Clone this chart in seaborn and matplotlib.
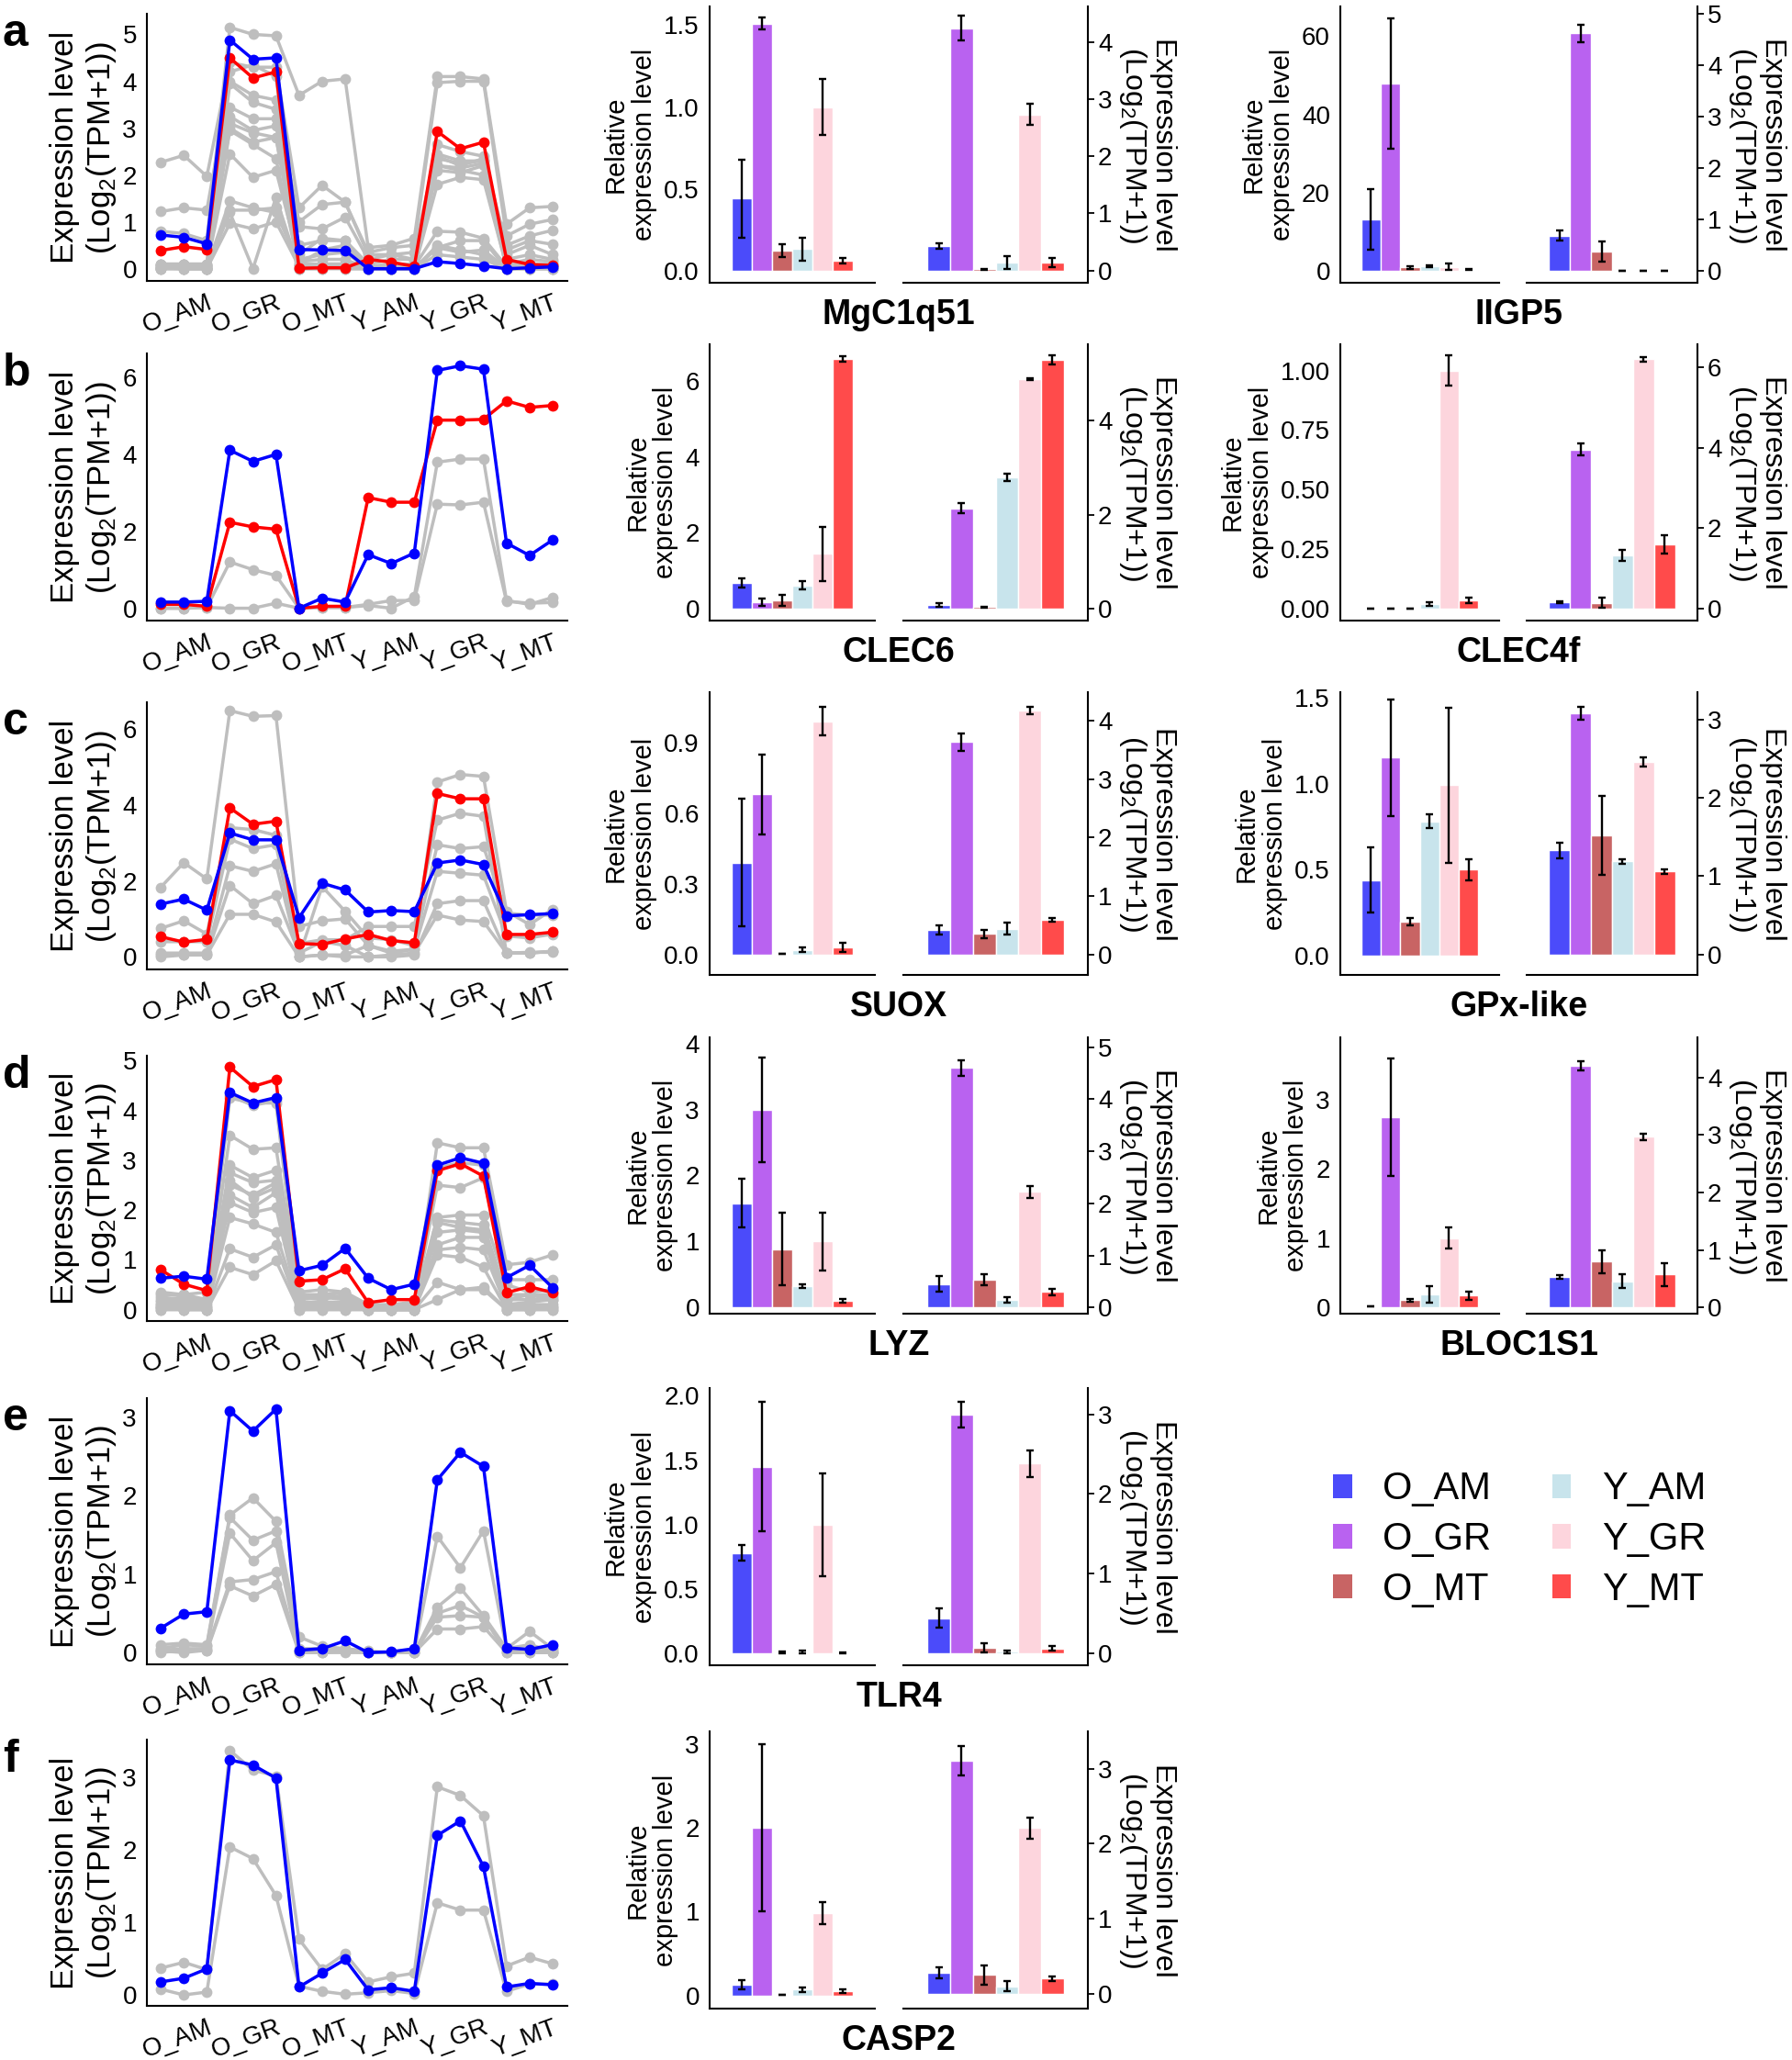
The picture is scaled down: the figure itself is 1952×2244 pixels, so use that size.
import numpy as np
import pandas as pd
import matplotlib
matplotlib.use('Agg')
import matplotlib.pyplot as plt
from matplotlib import font_manager
from matplotlib.patches import Patch
import seaborn as sns

sns.set_style('white')
plt.rcParams['font.family'] = ['Liberation Sans', 'DejaVu Sans']
plt.rcParams['mathtext.fontset'] = 'custom'
plt.rcParams['mathtext.rm'] = 'Liberation Sans'
for key in ['text.color', 'axes.labelcolor', 'xtick.color', 'ytick.color']:
    plt.rcParams[key] = 'black'

# tick numbers in the figure look condensed -> use the narrow cut when it exists
_names = {f.name for f in font_manager.fontManager.ttflist}
TICK_FONT = 'Liberation Sans Narrow' if 'Liberation Sans Narrow' in _names else 'Liberation Sans'

groups = ['O_AM', 'O_GR', 'O_MT', 'Y_AM', 'Y_GR', 'Y_MT']
bar_colors = ['#4B4BFA', '#B962F0', '#C86464', '#C8E4EC', '#FDD5DD', '#FF4B4B']

# ---------------- line panels (18 samples = 6 groups x 3) ----------------
a_red = [0.39, 0.47, 0.41, 4.50, 4.07, 4.20, 0.01, 0.02, 0.02, 0.20, 0.14, 0.05, 2.93, 2.56, 2.70, 0.20, 0.09, 0.07]
a_blue = [0.72, 0.67, 0.53, 4.88, 4.47, 4.50, 0.41, 0.40, 0.39, 0.00, 0.00, 0.00, 0.15, 0.11, 0.06, 0.00, 0.02, 0.04]
a_gray = [
    [0.80, 0.75, 0.60, 5.15, 5.00, 4.97, 3.70, 4.00, 4.05, 0.45, 0.50, 0.65, 4.10, 4.10, 4.05, 0.95, 1.30, 1.33],
    [2.27, 2.42, 1.97, 4.40, 4.30, 4.30, 1.30, 1.78, 1.42, 0.35, 0.45, 0.50, 3.97, 4.00, 4.00, 0.70, 0.95, 1.05],
    [1.22, 1.30, 1.25, 4.00, 3.70, 3.60, 1.00, 1.37, 1.42, 0.30, 0.30, 0.35, 2.65, 2.50, 2.40, 0.50, 0.70, 0.82],
    [0.10, 0.10, 0.10, 3.45, 3.20, 3.20, 0.90, 0.85, 1.10, 0.20, 0.30, 0.20, 2.45, 2.30, 2.30, 0.40, 0.60, 0.52],
    [0.05, 0.05, 0.05, 3.25, 2.95, 3.05, 0.50, 0.60, 0.60, 0.10, 0.20, 0.20, 2.35, 2.25, 2.30, 0.20, 0.30, 0.20],
    [0.10, 0.05, 0.08, 3.00, 2.70, 2.80, 0.30, 0.65, 0.60, 0.05, 0.10, 0.10, 2.20, 2.15, 2.25, 0.30, 0.50, 0.30],
    [0.02, 0.10, 0.05, 2.45, 1.95, 2.10, 0.20, 0.30, 0.35, 0.00, 0.05, 0.05, 2.10, 2.05, 2.20, 0.10, 0.20, 0.15],
    [0.02, 0.05, 0.02, 1.45, 1.30, 1.20, 0.10, 0.40, 0.50, 0.00, 0.00, 0.00, 1.80, 1.95, 1.90, 0.05, 0.10, 0.10],
    [0.00, 0.00, 0.00, 1.25, 1.25, 1.30, 0.10, 0.10, 0.10, 0.00, 0.00, 0.05, 0.80, 0.78, 0.65, 0.05, 0.05, 0.05],
    [0.05, 0.00, 0.00, 0.97, 0.85, 1.00, 0.05, 0.05, 0.05, 0.00, 0.00, 0.00, 0.50, 0.40, 0.30, 0.00, 0.00, 0.00],
    [0.00, 0.05, 0.00, 1.20, 0.00, 1.52, 0.00, 0.00, 0.00, 0.00, 0.00, 0.00, 0.45, 0.60, 0.60, 0.00, 0.05, 0.00],
    [0.10, 0.10, 0.10, 4.20, 4.35, 4.10, 0.15, 0.20, 0.20, 0.00, 0.00, 0.02, 2.40, 2.20, 2.35, 0.10, 0.10, 0.10],
    [0.05, 0.02, 0.03, 3.95, 3.55, 3.40, 0.05, 0.10, 0.10, 0.00, 0.00, 0.00, 2.20, 2.10, 2.00, 0.05, 0.00, 0.05],
    [0.00, 0.00, 0.00, 3.10, 2.90, 2.80, 0.00, 0.00, 0.05, 0.00, 0.00, 0.00, 0.45, 0.35, 0.40, 0.00, 0.00, 0.00],
    [0.02, 0.00, 0.00, 2.95, 2.65, 2.35, 0.00, 0.05, 0.00, 0.00, 0.00, 0.00, 0.30, 0.25, 0.20, 0.00, 0.00, 0.00],
]

b_red = [0.10, 0.10, 0.05, 2.23, 2.11, 2.05, 0.00, 0.05, 0.05, 2.87, 2.75, 2.75, 4.88, 4.88, 4.90, 5.38, 5.21, 5.26]
b_blue = [0.16, 0.16, 0.18, 4.10, 3.81, 3.99, 0.00, 0.26, 0.16, 1.39, 1.16, 1.43, 6.17, 6.29, 6.20, 1.69, 1.37, 1.77]
b_gray = [
    [0.00, 0.00, 0.02, 0.00, 0.00, 0.13, 0.00, 0.02, 0.02, 0.07, 0.00, 0.30, 3.79, 3.87, 3.87, 0.20, 0.10, 0.28],
    [0.00, 0.00, 0.02, 1.20, 1.00, 0.85, 0.00, 0.02, 0.02, 0.10, 0.20, 0.20, 2.70, 2.68, 2.75, 0.18, 0.13, 0.15],
]

c_red = [0.53, 0.39, 0.46, 3.92, 3.49, 3.57, 0.35, 0.33, 0.47, 0.59, 0.43, 0.37, 4.30, 4.16, 4.16, 0.59, 0.59, 0.65]
c_blue = [1.39, 1.52, 1.23, 3.26, 3.08, 3.08, 1.03, 1.94, 1.76, 1.18, 1.22, 1.19, 2.47, 2.55, 2.43, 1.08, 1.11, 1.14]
c_gray = [
    [1.83, 2.48, 2.05, 6.48, 6.33, 6.35, 0.80, 0.95, 1.00, 0.30, 0.15, 0.20, 4.60, 4.80, 4.75, 1.20, 0.85, 1.25],
    [0.75, 0.95, 0.60, 3.40, 3.35, 3.20, 0.35, 0.45, 0.45, 0.80, 0.80, 0.80, 3.60, 3.78, 3.70, 0.10, 0.10, 0.15],
    [0.40, 0.40, 0.40, 3.10, 2.85, 2.95, 0.00, 1.85, 1.20, 0.50, 0.45, 0.30, 2.95, 2.85, 2.90, 1.15, 1.10, 1.10],
    [0.10, 0.10, 0.10, 2.40, 2.25, 2.45, 0.00, 0.05, 0.05, 0.30, 0.10, 0.20, 2.25, 2.20, 2.15, 0.55, 0.50, 0.60],
    [0.05, 0.05, 0.05, 1.88, 1.40, 1.62, 0.10, 0.40, 0.30, 0.00, 0.00, 0.05, 1.40, 1.48, 1.48, 0.10, 0.10, 0.15],
    [0.00, 0.05, 0.05, 1.12, 1.12, 0.92, 0.00, 0.05, 0.00, 0.00, 0.05, 0.10, 1.10, 0.97, 0.93, 0.10, 0.12, 0.12],
]

d_red = [0.80, 0.51, 0.38, 4.87, 4.48, 4.62, 0.57, 0.60, 0.82, 0.14, 0.20, 0.20, 2.79, 2.93, 2.68, 0.34, 0.46, 0.34]
d_blue = [0.63, 0.67, 0.61, 4.36, 4.15, 4.26, 0.78, 0.89, 1.23, 0.63, 0.40, 0.51, 2.90, 3.05, 2.94, 0.64, 0.89, 0.44]
d_gray = [
    [0.30, 0.30, 0.35, 4.30, 4.10, 4.20, 0.35, 0.40, 0.35, 0.10, 0.10, 0.15, 3.35, 3.25, 3.25, 0.90, 0.95, 1.10],
    [0.35, 0.30, 0.20, 3.50, 3.22, 3.25, 0.30, 0.30, 0.35, 0.05, 0.10, 0.10, 2.50, 2.45, 2.65, 0.60, 0.60, 0.60],
    [0.20, 0.25, 0.20, 2.90, 2.65, 2.80, 0.25, 0.20, 0.30, 0.05, 0.05, 0.10, 1.85, 1.90, 1.90, 0.50, 0.35, 0.40],
    [0.15, 0.20, 0.15, 2.75, 2.55, 2.60, 0.20, 0.25, 0.20, 0.00, 0.05, 0.05, 1.80, 1.75, 1.70, 0.30, 0.30, 0.30],
    [0.10, 0.15, 0.10, 2.50, 2.30, 2.55, 0.15, 0.15, 0.15, 0.00, 0.00, 0.05, 1.75, 1.65, 1.60, 0.20, 0.20, 0.25],
    [0.10, 0.10, 0.05, 2.30, 2.05, 2.35, 0.10, 0.10, 0.10, 0.00, 0.00, 0.00, 1.55, 1.60, 1.55, 0.10, 0.15, 0.20],
    [0.05, 0.05, 0.05, 2.15, 1.95, 2.05, 0.05, 0.10, 0.05, 0.00, 0.00, 0.00, 1.30, 1.45, 1.45, 0.05, 0.10, 0.10],
    [0.05, 0.00, 0.00, 1.85, 1.72, 1.55, 0.05, 0.05, 0.05, 0.00, 0.00, 0.00, 1.20, 1.25, 1.20, 0.05, 0.05, 0.05],
    [0.00, 0.00, 0.00, 1.22, 1.05, 1.30, 0.00, 0.00, 0.00, 0.00, 0.00, 0.00, 1.10, 1.05, 0.85, 0.00, 0.00, 0.05],
    [0.00, 0.00, 0.00, 0.85, 0.70, 0.98, 0.00, 0.00, 0.00, 0.00, 0.00, 0.00, 0.55, 0.40, 0.45, 0.00, 0.00, 0.00],
    [0.05, 0.05, 0.00, 2.60, 2.25, 2.45, 0.05, 0.05, 0.05, 0.00, 0.00, 0.00, 0.20, 0.40, 0.40, 0.00, 0.00, 0.00],
    [0.25, 0.20, 0.20, 4.25, 4.15, 4.15, 0.20, 0.30, 0.25, 0.05, 0.10, 0.10, 2.85, 2.95, 2.90, 0.20, 0.30, 0.20],
]

e_blue = [0.31, 0.49, 0.52, 3.08, 2.82, 3.10, 0.03, 0.05, 0.15, 0.00, 0.01, 0.05, 2.20, 2.55, 2.37, 0.06, 0.04, 0.10]
e_gray = [
    [0.10, 0.12, 0.10, 1.75, 1.97, 1.67, 0.20, 0.08, 0.05, 0.02, 0.00, 0.02, 1.48, 1.08, 1.55, 0.05, 0.27, 0.05],
    [0.05, 0.10, 0.08, 1.72, 1.43, 1.55, 0.05, 0.05, 0.02, 0.00, 0.00, 0.00, 0.58, 0.82, 0.47, 0.05, 0.10, 0.02],
    [0.03, 0.05, 0.05, 1.52, 1.17, 1.40, 0.02, 0.02, 0.05, 0.00, 0.00, 0.00, 0.50, 0.60, 0.45, 0.02, 0.05, 0.00],
    [0.02, 0.00, 0.03, 0.90, 0.93, 1.03, 0.00, 0.00, 0.02, 0.00, 0.00, 0.00, 0.45, 0.47, 0.45, 0.00, 0.00, 0.00],
    [0.00, 0.03, 0.02, 0.85, 0.72, 0.87, 0.00, 0.00, 0.00, 0.00, 0.00, 0.00, 0.30, 0.30, 0.33, 0.00, 0.00, 0.00],
]

f_blue = [0.18, 0.23, 0.36, 3.24, 3.17, 2.99, 0.11, 0.30, 0.49, 0.07, 0.10, 0.05, 2.20, 2.40, 1.77, 0.11, 0.16, 0.14]
f_gray = [
    [0.37, 0.45, 0.35, 3.37, 3.10, 3.02, 0.77, 0.35, 0.57, 0.18, 0.25, 0.30, 2.87, 2.75, 2.47, 0.40, 0.52, 0.43],
    [0.08, 0.00, 0.04, 2.04, 1.88, 1.37, 0.12, 0.05, 0.01, 0.03, 0.06, 0.02, 1.27, 1.17, 1.17, 0.05, 0.15, 0.15],
]

# ---------------- bar panels: qPCR relative level and RNA-seq log2(TPM+1) ----------------
mgc_rel = [0.44, 1.51, 0.12, 0.13, 1.00, 0.06]
mgc_rel_err = [0.24, 0.035, 0.04, 0.07, 0.17, 0.018]
mgc_tpm = [0.43, 4.24, 0.02, 0.14, 2.73, 0.13]
mgc_tpm_err = [0.05, 0.22, 0.01, 0.11, 0.18, 0.08]

iigp5_rel = [13.0, 47.9, 0.8, 1.1, 1.0, 0.3]
iigp5_rel_err = [7.75, 16.6, 0.3, 0.3, 0.8, 0.1]
iigp5_tpm = [0.675, 4.63, 0.37, 0.0, 0.0, 0.0]
iigp5_tpm_err = [0.1, 0.17, 0.19, 0.0, 0.0, 0.0]

clec6_rel = [0.67, 0.16, 0.21, 0.61, 1.44, 6.60]
clec6_rel_err = [0.12, 0.10, 0.15, 0.11, 0.72, 0.07]
clec6_tpm = [0.07, 2.13, 0.03, 2.79, 4.89, 5.29]
clec6_tpm_err = [0.04, 0.11, 0.01, 0.08, 0.02, 0.10]

clec4f_rel = [0.0, 0.0, 0.0, 0.02, 1.00, 0.036]
clec4f_rel_err = [0.0, 0.0, 0.0, 0.007, 0.062, 0.012]
clec4f_tpm = [0.16, 3.96, 0.14, 1.32, 6.21, 1.60]
clec4f_tpm_err = [0.03, 0.15, 0.13, 0.14, 0.06, 0.22]

suox_rel = [0.39, 0.68, 0.005, 0.02, 0.99, 0.03]
suox_rel_err = [0.27, 0.17, 0.0, 0.01, 0.06, 0.02]
suox_tpm = [0.43, 3.63, 0.36, 0.45, 4.17, 0.60]
suox_tpm_err = [0.08, 0.15, 0.07, 0.10, 0.06, 0.03]

gpx_rel = [0.44, 1.15, 0.20, 0.78, 0.99, 0.50]
gpx_rel_err = [0.19, 0.34, 0.02, 0.04, 0.45, 0.06]
gpx_tpm = [1.33, 3.08, 1.52, 1.19, 2.46, 1.06]
gpx_tpm_err = [0.10, 0.08, 0.50, 0.03, 0.06, 0.03]

lyz_rel = [1.58, 3.00, 0.88, 0.32, 1.00, 0.10]
lyz_rel_err = [0.37, 0.80, 0.55, 0.03, 0.44, 0.03]
lyz_tpm = [0.45, 4.60, 0.53, 0.15, 2.22, 0.30]
lyz_tpm_err = [0.15, 0.15, 0.10, 0.05, 0.12, 0.06]

bloc_rel = [0.01, 2.75, 0.10, 0.19, 1.00, 0.17]
bloc_rel_err = [0.0, 0.85, 0.02, 0.12, 0.15, 0.06]
bloc_tpm = [0.53, 4.20, 0.80, 0.45, 2.97, 0.57]
bloc_tpm_err = [0.03, 0.08, 0.20, 0.12, 0.06, 0.20]

tlr4_rel = [0.78, 1.45, 0.008, 0.01, 1.00, 0.005]
tlr4_rel_err = [0.06, 0.50, 0.005, 0.008, 0.40, 0.004]
tlr4_tpm = [0.44, 3.00, 0.07, 0.02, 2.38, 0.06]
tlr4_tpm_err = [0.12, 0.16, 0.06, 0.02, 0.17, 0.03]

casp2_rel = [0.13, 2.00, 0.01, 0.07, 0.98, 0.05]
casp2_rel_err = [0.05, 1.00, 0.0, 0.03, 0.13, 0.02]
casp2_tpm = [0.28, 3.11, 0.25, 0.10, 2.21, 0.20]
casp2_tpm_err = [0.07, 0.20, 0.13, 0.07, 0.14, 0.03]

W, H = 1952, 2244
fig = plt.figure(figsize=(W / 100, H / 100), dpi=100)

TICK_FS = 20
TPM_LABEL = 'Expression level\n(Log$_\\mathregular{2}$(TPM+1))'


def add_ax(l, r, t, b):
    return fig.add_axes([l / W, 1 - b / H, (r - l) / W, (b - t) / H])


def style_spines(ax, side):
    for s in ['top', 'right', 'left', 'bottom']:
        ax.spines[s].set_visible(s in ('bottom', side))
        ax.spines[s].set_linewidth(1.5)
        ax.spines[s].set_color('black')
    ax.tick_params(axis='both', length=5, width=1.3, color='black',
                   labelsize=TICK_FS, pad=3)
    for lab in ax.get_yticklabels():
        lab.set_family(TICK_FONT)


def line_panel(t, b, letter, gray, red, blue, ylim, yticks):
    ax = add_ax(160, 618, t, b)
    rows = []
    for k, vals in enumerate(gray):
        for i, v in enumerate(vals):
            rows.append(('g%d' % k, i, v))
    df = pd.DataFrame(rows, columns=['gene', 'pos', 'val'])
    kw = dict(estimator=None, sort=False, lw=2.5, marker='o', markersize=8.5,
              markeredgewidth=0, legend=False, ax=ax)
    sns.lineplot(data=df, x='pos', y='val', units='gene', color='#BEBEBE', **kw)
    for vals, col in ((red, '#FF0000'), (blue, '#0000FF')):
        if vals is not None:
            sns.lineplot(x=np.arange(18), y=vals, color=col, **kw)
    ax.set_xlim(-0.6, 17.64)
    ax.set_ylim(*ylim)
    ax.set_yticks(yticks)
    ax.set_yticklabels([str(v) for v in yticks])
    labels = []
    for g in groups:
        labels += ['', '', g]
    ax.set_xticks(range(18))
    ax.set_xlabel('')
    ax.set_ylabel(TPM_LABEL, fontsize=25, linespacing=1.2, labelpad=3)
    style_spines(ax, 'left')
    ax.set_xticklabels(labels, rotation=20, ha='right', va='top',
                       rotation_mode='anchor', fontsize=20)
    fig.text(3 / W, 1 - (t + 22) / H, letter, fontsize=36, fontweight='bold',
             ha='left', va='center')


def bar_panel(col, t, b, title, rel, rel_err, tpm, tpm_err,
              rel_lim, rel_ticks, rel_fmt, tpm_lim, tpm_ticks):
    if col == 2:
        lx, rx = (773, 953), (984, 1185)
    else:
        lx, rx = (1460, 1633), (1663, 1849)
    axl = add_ax(lx[0], lx[1], t, b)
    axr = add_ax(rx[0], rx[1], t, b)
    for ax, vals, errs in ((axl, rel, rel_err), (axr, tpm, tpm_err)):
        df = pd.DataFrame({'x': ['g'] * 6, 'grp': groups, 'val': vals})
        sns.barplot(data=df, x='x', y='val', hue='grp', hue_order=groups,
                    palette=bar_colors, saturation=1, width=0.9, errorbar=None,
                    edgecolor='white', linewidth=1.0, legend=False, ax=ax)
        bars = sorted(ax.patches, key=lambda p: p.get_x())
        cx = [p.get_x() + p.get_width() / 2 for p in bars]
        ax.errorbar(cx, vals, yerr=errs, fmt='none', ecolor='black',
                    elinewidth=1.7, capsize=3.2, capthick=1.7, zorder=5)
        ax.set_xlim(-0.61, 0.61)
        ax.set_xticks([0])
        ax.set_xticklabels([''])
        ax.set_xlabel('')
    axl.set_ylim(*rel_lim)
    axl.set_yticks(rel_ticks)
    axl.set_yticklabels([rel_fmt % v for v in rel_ticks])
    axl.set_ylabel('Relative\nexpression level', fontsize=21, linespacing=1.15, labelpad=5)
    style_spines(axl, 'left')
    axr.set_ylim(*tpm_lim)
    axr.yaxis.tick_right()
    axr.yaxis.set_label_position('right')
    axr.set_yticks(tpm_ticks)
    axr.set_yticklabels([str(v) for v in tpm_ticks])
    axr.set_ylabel(TPM_LABEL, fontsize=23, rotation=270, va='bottom',
                   linespacing=1.05, labelpad=4)
    style_spines(axr, 'right')
    cxf = (lx[0] + rx[1]) / 2
    fig.text(cxf / W, 1 - (b + 35) / H, title, fontsize=27, fontweight='bold',
             ha='center', va='center')


line_panel(15, 306, 'a', a_gray, a_red, a_blue, (-0.26, 5.44), [0, 1, 2, 3, 4, 5])
line_panel(385, 676, 'b', b_gray, b_red, b_blue, (-0.32, 6.61), [0, 2, 4, 6])
line_panel(765, 1056, 'c', c_gray, c_red, c_blue, (-0.33, 6.7), [0, 2, 4, 6])
line_panel(1150, 1439, 'd', d_gray, d_red, d_blue, (-0.23, 5.1), [0, 1, 2, 3, 4, 5])
line_panel(1523, 1813, 'e', e_gray, None, e_blue, (-0.15, 3.24), [0, 1, 2, 3])
line_panel(1895, 2185, 'f', f_gray, None, f_blue, (-0.15, 3.52), [0, 1, 2, 3])

bar_panel(2, 7, 308, 'MgC1q51', mgc_rel, mgc_rel_err, mgc_tpm, mgc_tpm_err,
          (-0.075, 1.615), [0, 0.5, 1.0, 1.5], '%.1f', (-0.216, 4.62), [0, 1, 2, 3, 4])
bar_panel(3, 7, 308, 'IIGP5', iigp5_rel, iigp5_rel_err, iigp5_tpm, iigp5_tpm_err,
          (-3.1, 67.6), [0, 20, 40, 60], '%d', (-0.24, 5.15), [0, 1, 2, 3, 4, 5])
bar_panel(2, 375, 676, 'CLEC6', clec6_rel, clec6_rel_err, clec6_tpm, clec6_tpm_err,
          (-0.32, 6.98), [0, 2, 4, 6], '%d', (-0.26, 5.63), [0, 2, 4])
bar_panel(3, 375, 676, 'CLEC4f', clec4f_rel, clec4f_rel_err, clec4f_tpm, clec4f_tpm_err,
          (-0.05, 1.11), [0, 0.25, 0.5, 0.75, 1.0], '%.2f', (-0.3, 6.58), [0, 2, 4, 6])
bar_panel(2, 754, 1062, 'SUOX', suox_rel, suox_rel_err, suox_tpm, suox_tpm_err,
          (-0.086, 1.113), [0, 0.3, 0.6, 0.9], '%.1f', (-0.34, 4.48), [0, 1, 2, 3, 4])
bar_panel(3, 754, 1062, 'GPx-like', gpx_rel, gpx_rel_err, gpx_tpm, gpx_tpm_err,
          (-0.11, 1.53), [0, 0.5, 1.0, 1.5], '%.1f', (-0.26, 3.35), [0, 1, 2, 3])
bar_panel(2, 1130, 1431, 'LYZ', lyz_rel, lyz_rel_err, lyz_tpm, lyz_tpm_err,
          (-0.1, 4.1), [0, 1, 2, 3, 4], '%d', (-0.12, 5.19), [0, 1, 2, 3, 4, 5])
bar_panel(3, 1130, 1431, 'BLOC1S1', bloc_rel, bloc_rel_err, bloc_tpm, bloc_tpm_err,
          (-0.093, 3.9), [0, 1, 2, 3], '%d', (-0.11, 4.7), [0, 1, 2, 3, 4])
bar_panel(2, 1512, 1814, 'TLR4', tlr4_rel, tlr4_rel_err, tlr4_tpm, tlr4_tpm_err,
          (-0.093, 2.06), [0, 0.5, 1.0, 1.5, 2.0], '%.1f', (-0.15, 3.33), [0, 1, 2, 3])
bar_panel(2, 1886, 2188, 'CASP2', casp2_rel, casp2_rel_err, casp2_tpm, casp2_tpm_err,
          (-0.155, 3.15), [0, 1, 2, 3], '%d', (-0.2, 3.5), [0, 1, 2, 3])

handles = [Patch(facecolor=c, edgecolor='none') for c in bar_colors]
fig.legend(handles, groups, ncol=2, frameon=False, loc='center',
           bbox_to_anchor=(1655 / W, 1 - 1677 / H), fontsize=30,
           handlelength=0.5, handleheight=0.6, columnspacing=1.6,
           labelspacing=0.35, handletextpad=0.8)

fig.savefig('out.png', dpi=100)
